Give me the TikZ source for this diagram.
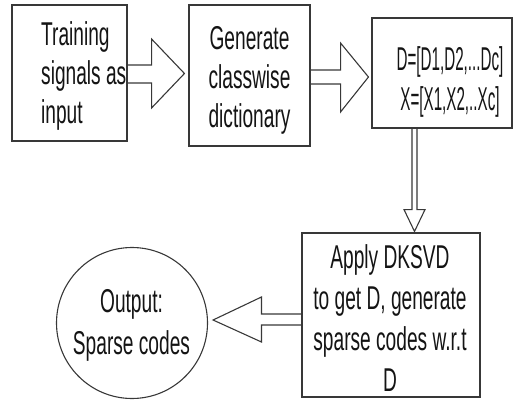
\documentclass[tikz,border=0pt]{standalone}
\usepackage{fontspec}
\setmainfont[FakeStretch=0.58]{Liberation Sans}
\newfontfamily\narrowfont[FakeStretch=0.46]{Liberation Sans}
\usetikzlibrary{calc}

\begin{document}
\begin{tikzpicture}[x=1pt, y=-1pt,
		frame/.style={draw=black!78, line width=1.1pt, inner sep=0pt},
		label/.style={inner sep=0pt, text=black!92, font=\fontsize{33}{39}\selectfont},
		blockarrow/.style={draw=black!78, line width=1.1pt, line join=miter}]
	% page size
	\useasboundingbox (0,0) rectangle (513,409);
	% draw boxes
	\node[frame, minimum width=115, minimum height=136] (b_1) at (69.5,73) {};
	\node[frame, minimum width=121, minimum height=141] (b_2) at (249.5,75.5) {};
	\node[frame, minimum width=140, minimum height=110] (b_3) at (442,73) {};
	\node[frame, minimum width=178, minimum height=164] (b_4) at (391,315) {};
	\node[frame, circle, minimum size=151] (out) at (132,323) {};
	% labels
	\node[label, align=left, anchor=west] (l_1) at (41,76) {Training\\signals as\\input};
	\node[label, align=center] (l_2) at (249.5,80) {Generate\\classwise\\dictionary};
	\node[label, align=center, font=\narrowfont\fontsize{33}{40}\selectfont] (l_3) at (450,82) {D=[D1,D2,...Dc]\\X=[X1,X2,..Xc]};
	\node[label, align=center, font=\fontsize{33}{41}\selectfont] (l_4) at (390,318) {Apply DKSVD\\to get D, generate\\sparse codes w.r.t\\D};
	\node[label, align=center, font=\fontsize{33}{42}\selectfont] (l_5) at (131.5,325) {Output:\\Sparse codes};
	% block arrows
	\draw[blockarrow] ($(b_1.east)+(0,-8)$)  % arrow 1
		-- ++(24,0)
		-- ++(0,-26)
		-- ($(b_2.west)+(-4,-2)$)
		-- ($(b_1.east)+(24,35)$)
		-- ($(b_1.east)+(24,10)$)
		-- ($(b_1.east)+(0,10)$);
	\draw[blockarrow] ($(b_2.east)+(0,-5.5)$)  % arrow 2
		-- ++(30,0)
		-- ++(0,-27)
		-- ($(b_3.west)+(-3,4)$)
		-- ($(b_2.east)+(30,36.5)$)
		-- ($(b_2.east)+(30,8.5)$)
		-- ($(b_2.east)+(0,8.5)$);
	\draw[blockarrow] ($(b_3.south)+(-30,0)$)  % arrow 3
		-- ++(0,81)
		-- ++(-8,0)
		-- ($(b_4.north)+(23.5,-1)$)
		-- ($(b_3.south)+(-17,81)$)
		-- ($(b_3.south)+(-25,81)$)
		-- ($(b_3.south)+(-25,0)$);
	\draw[blockarrow] ($(b_4.west)+(0,-1)$)  % arrow 4
		-- ++(-40,0)
		-- ++(0,-17)
		-- ($(out.east)+(5,-3)$)
		-- ($(b_4.west)+(-40,27)$)
		-- ($(b_4.west)+(-40,10)$)
		-- ($(b_4.west)+(0,10)$);
\end{tikzpicture}
\end{document}
